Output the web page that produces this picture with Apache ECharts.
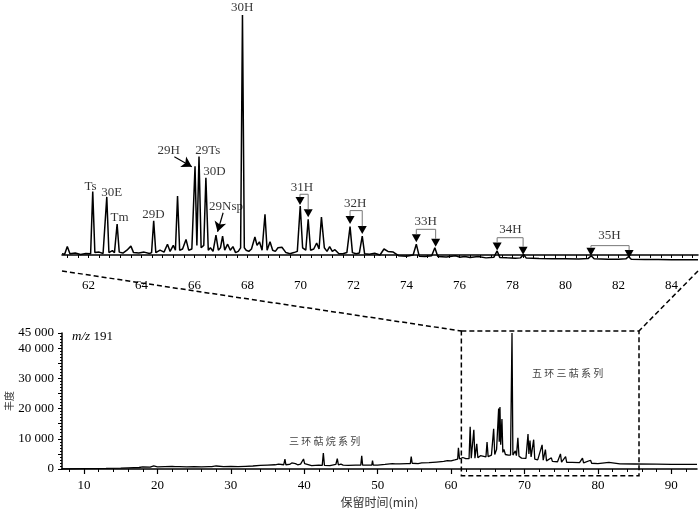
<!DOCTYPE html>
<html>
<head>
<meta charset="utf-8">
<script src="https://cdn.jsdelivr.net/npm/echarts@6/dist/echarts.min.js"></script>
<style>
  html, body { margin: 0; padding: 0; background: #fff; }
  #main { width: 700px; height: 509px; }
</style>
</head>
<body>
<div id="main"></div>
<script>
// enlarged trace, 61-85 min, relative intensity (30H = 100)
var zoomTrace = [
  [61.0, 0.5], [61.1, 0.3], [61.2, 3.5], [61.3, 0.5], [61.5, 0.8], [61.7, 0.2], [61.9, 0.6],
  [62.08, 0.5], [62.16, 26.4], [62.24, 1], [62.4, 1.2], [62.55, 0.6], [62.69, 24.2], [62.77, 1],
  [62.9, 1.8], [62.98, 1], [63.08, 12.9], [63.16, 1.2], [63.3, 0.8], [63.45, 2], [63.6, 3.7],
  [63.7, 1], [63.9, 0.8], [64.1, 1.2], [64.3, 0.6], [64.38, 1], [64.46, 14.2], [64.54, 1],
  [64.7, 2], [64.85, 1.2], [64.98, 4.5], [65.08, 1.5], [65.2, 4], [65.28, 2], [65.36, 24.6],
  [65.44, 2], [65.55, 2.5], [65.68, 6.5], [65.78, 2], [65.9, 2.5], [66.02, 37], [66.09, 4],
  [66.17, 41], [66.25, 3], [66.35, 4], [66.43, 32.2], [66.52, 2], [66.6, 3], [66.7, 1.5],
  [66.81, 8.3], [66.9, 2], [66.98, 3], [67.06, 7.9], [67.14, 2], [67.25, 4.5], [67.35, 2],
  [67.45, 3.5], [67.55, 1], [67.65, 1.5], [67.74, 3], [67.81, 100], [67.88, 3], [67.95, 2],
  [68.05, 1.5], [68.15, 2.5], [68.28, 7.5], [68.36, 4], [68.45, 5.5], [68.55, 2], [68.66, 17],
  [68.74, 2], [68.85, 5.5], [68.95, 2], [69.05, 1.5], [69.15, 3], [69.3, 3.2], [69.45, 1],
  [69.6, 0.5], [69.75, 1], [69.88, 1.5], [69.99, 20.4], [70.08, 3], [70.2, 2], [70.29, 14.9],
  [70.38, 2], [70.5, 2.5], [70.61, 5], [70.7, 2.5], [70.79, 15.8], [70.9, 3], [71.0, 1.5],
  [71.1, 3.5], [71.2, 1.5], [71.3, 2.2], [71.45, 0.5], [71.6, 0.5], [71.75, 1], [71.87, 11.8],
  [71.96, 1], [72.1, 0.5], [72.22, 0.8], [72.33, 7.9], [72.42, 0.5], [72.6, 0.3], [72.8, 0.7],
  [73.0, 0], [73.15, 2.5], [73.3, 1.5], [73.5, 1.2], [73.7, -0.3], [74.0, -0.5], [74.25, 0],
  [74.37, 4.5], [74.48, -0.5], [74.7, -0.6], [74.95, -0.3], [75.07, 3], [75.18, -0.6],
  [75.5, -0.8], [75.85, -0.3], [76.0, -0.9], [76.2, -0.6], [76.4, -1], [76.7, -0.6], [77.0, -1.2],
  [77.3, -0.9], [77.42, 1.7], [77.52, -1], [77.8, -1.2], [78.1, -1.4], [78.3, -1.2], [78.42, 0.2],
  [78.52, -1.3], [79.0, -1.5], [79.5, -1.6], [80.0, -1.6], [80.5, -1.7], [80.85, -1.5],
  [80.97, -0.3], [81.08, -1.6], [81.6, -1.8], [82.0, -1.8], [82.28, -1.6], [82.38, -0.6],
  [82.48, -1.8], [83.0, -1.9], [83.5, -1.9], [84.0, -2], [84.5, -2], [85.0, -2]
];

// full m/z 191 trace, abundance
var fullTrace = [
  [7.0, 0], [10, 100], [13, 200], [15, 300], [16, 400], [17.5, 500], [18, 700], [19, 600],
  [19.5, 1000], [19.7, 600], [20, 700], [21, 800], [22, 900], [22.2, 1200], [22.4, 800],
  [23, 800], [24, 700], [25, 800], [26, 700], [27, 800], [27.2, 1300], [27.4, 800], [28, 1000],
  [29, 800], [30, 900], [31, 800], [32, 900], [33, 1000], [34, 1200], [35, 1300], [36, 1400],
  [36.5, 1600], [37.2, 1400], [37.37, 3300], [37.5, 1400], [38.0, 1500], [38.3, 2000],
  [38.5, 1400], [38.8, 1800], [39.1, 1400], [39.5, 1600], [39.9, 3300], [40.05, 1800],
  [40.3, 1200], [41, 1100], [42, 1300], [42.45, 1200], [42.6, 5300], [42.75, 1200], [43.5, 1100],
  [44.3, 1500], [44.5, 3400], [44.65, 1400], [45, 1600], [45.3, 1300], [46, 1200], [47, 1300],
  [47.7, 1300], [47.83, 4400], [47.95, 1300], [48.5, 1300], [49.2, 1300], [49.3, 2800],
  [49.4, 1300], [50, 1300], [51, 1500], [52, 1800], [52.2, 2200], [52.4, 1700], [53, 1700],
  [54, 1800], [54.45, 1800], [54.57, 4100], [54.7, 1900], [55.5, 1800], [56, 2000], [57, 2100],
  [58, 2300], [59, 2500], [59.5, 2800], [60, 2700], [60.5, 3000], [60.9, 3300], [61.0, 7000],
  [61.15, 3300], [61.6, 3800], [61.75, 3200], [62, 3400], [62.45, 3400], [62.6, 14000],
  [62.75, 3600], [62.95, 3600], [63.1, 13000], [63.25, 3600], [63.5, 8300], [63.65, 3700],
  [64, 4400], [64.2, 3900], [64.75, 4000], [64.9, 8900], [65.05, 4100], [65.5, 4600],
  [65.8, 13300], [65.95, 4800], [66.2, 6500], [66.35, 6000], [66.48, 20000], [66.56, 9000],
  [66.66, 20500], [66.76, 8000], [66.93, 16500], [67.05, 5500], [67.2, 6500], [67.4, 4800],
  [67.8, 4600], [68.1, 4600], [68.3, 45000], [68.42, 4600], [68.6, 4800], [68.75, 6000],
  [68.9, 4400], [69.1, 10300], [69.25, 4200], [69.6, 3600], [70.2, 3500], [70.48, 11600],
  [70.6, 5000], [70.75, 9400], [70.9, 4000], [71.25, 9700], [71.4, 3300], [71.8, 3000],
  [72.4, 8000], [72.55, 2900], [72.85, 6400], [73, 2700], [73.66, 3700], [73.8, 2500],
  [74.5, 2400], [74.9, 5000], [75.05, 2300], [75.6, 4100], [75.75, 2200], [76.5, 2200],
  [77.5, 2100], [77.9, 3600], [78.05, 2000], [79.0, 2900], [79.15, 1900], [80, 1800],
  [81.5, 2200], [81.65, 1700], [83, 1700], [85, 1650], [88, 1600], [90, 1550], [93.5, 1500]
];

// peak labels in the enlarged trace [t, level, text]
var peakLabels = [
  [67.8, 103.3, '30H'], [62.08, 28.7, 'Ts'], [62.88, 26.2, '30E'], [63.17, 15.4, 'Tm'],
  [64.45, 16.7, '29D'], [65.03, 43.7, '29H'], [66.5, 43.7, '29Ts'], [66.75, 34.9, '30D'],
  [67.19, 20.1, '29Nsp'], [70.05, 28.2, '31H'], [72.06, 21.5, '32H'], [74.72, 13.9, '33H'],
  [77.92, 10.4, '34H'], [81.66, 7.9, '35H']
];

// homohopane doublets: [t1, tri1, t2, tri2, bracket level]
var hopanePairs = [
  [69.98, 22.5, 70.29, 17.4, 25.3],
  [71.87, 14.6, 72.33, 10.4, 18.5],
  [74.37, 7.0, 75.10, 5.1, 10.7],
  [77.42, 3.5, 78.40, 1.8, 7.2],
  [80.96, 1.4, 82.40, 0.4, 3.9]
];

// arrows [from, to]
var arrows = [
  [[65.24, 40.96], [65.9, 36.8]],
  [[67.08, 17.6], [66.87, 9.7]]
];

var zoomTicks = [62, 64, 66, 68, 70, 72, 74, 76, 78, 80, 82, 84];
var fullTicks = [10, 20, 30, 40, 50, 60, 70, 80, 90];
var yTicks = [0, 10000, 20000, 30000, 40000, 45000];

var serif = 'Liberation Serif';
var cjk = 'Noto Sans CJK SC';

var zoomMinor = [];
for (var t = 61.2; t < 85; t += 0.4) zoomMinor.push(Math.round(t * 10) / 10);
var fullMinor = [];
for (var m = 8; m <= 92; m += 2) fullMinor.push(m);

var triHalf = 1.6;
var triangles = [];
var bracketSeries = [];
hopanePairs.forEach(function (p) {
  triangles.push([p[0], p[1]], [p[2], p[3]]);
  bracketSeries.push({
    type: 'line',
    xAxisIndex: 0,
    yAxisIndex: 0,
    symbol: 'none',
    silent: true,
    lineStyle: { color: '#777', width: 1 },
    data: [[p[0], p[1] + triHalf], [p[0], p[4]], [p[2], p[4]], [p[2], p[3] + triHalf]]
  });
});

var chart = echarts.init(document.getElementById('main'));
var option = {
  animation: false,
  backgroundColor: '#fff',
  grid: [
    { left: 62, right: 2, top: 0, bottom: 238, outerBoundsMode: 'none', containLabel: false },
    { left: 62, right: 3, top: 333, bottom: 40, outerBoundsMode: 'none', containLabel: false }
  ],
  xAxis: [
    {
      type: 'value', gridIndex: 0, min: 61, max: 85, position: 'bottom',
      axisLine: { lineStyle: { color: '#000', width: 1.5 } },
      axisTick: { show: true, customValues: zoomMinor, length: 3, lineStyle: { color: '#000' } },
      axisLabel: { customValues: zoomTicks, color: '#000', fontFamily: serif, fontSize: 13, margin: 8 },
      splitLine: { show: false }
    },
    {
      type: 'value', gridIndex: 1, min: 7, max: 93.5, position: 'bottom',
      name: '保留时间(min)', nameLocation: 'middle', nameGap: 27,
      nameTextStyle: { color: '#333', fontFamily: cjk, fontSize: 12 },
      axisLine: { lineStyle: { color: '#000', width: 1.5 } },
      axisTick: { show: true, customValues: fullMinor, length: 3, lineStyle: { color: '#000' } },
      axisLabel: { customValues: fullTicks, color: '#000', fontFamily: serif, fontSize: 13, margin: 10 },
      splitLine: { show: false }
    },
    {
      type: 'value', gridIndex: 1, min: 7, max: 93.5, position: 'bottom', offset: 0,
      axisLine: { show: false },
      axisTick: { show: true, customValues: fullTicks, length: 5, lineStyle: { color: '#000', width: 1.2 } },
      axisLabel: { show: false },
      splitLine: { show: false }
    }
  ],
  yAxis: [
    { type: 'value', gridIndex: 0, min: -6.67, max: 106.25, show: false, splitLine: { show: false } },
    {
      type: 'value', gridIndex: 1, min: 0, max: 45000, interval: 5000,
      name: '丰度', nameLocation: 'middle', nameGap: 48, nameRotate: 90, nameMoveOverlap: false,
      nameTextStyle: { color: '#333', fontFamily: cjk, fontSize: 10 },
      axisLine: { show: true, lineStyle: { color: '#000', width: 1.5 } },
      axisTick: { show: true, length: 4, lineStyle: { color: '#000' } },
      minorTick: { show: true, splitNumber: 5, length: 2, lineStyle: { color: '#000' } },
      axisLabel: {
        customValues: yTicks, color: '#000', fontFamily: serif, fontSize: 13, margin: 8,
        formatter: function (v) { return String(v).replace(/\B(?=(\d{3})+(?!\d))/g, ' '); }
      },
      splitLine: { show: false }
    }
  ],
  series: [
    {
      type: 'line', xAxisIndex: 0, yAxisIndex: 0, symbol: 'none', silent: true,
      lineStyle: { color: '#000', width: 1.5 },
      data: zoomTrace,
      markLine: {
        silent: true, symbol: ['none', 'arrow'], symbolSize: [9, 10],
        label: { show: false },
        lineStyle: { color: '#000', width: 1.2, type: 'solid' },
        data: arrows.map(function (a) { return [{ coord: a[0] }, { coord: a[1] }]; })
      }
    },
    {
      type: 'line', xAxisIndex: 1, yAxisIndex: 1, symbol: 'none', silent: true,
      lineStyle: { color: '#000', width: 1.3 },
      data: fullTrace
    },
    {
      type: 'scatter', xAxisIndex: 0, yAxisIndex: 0, silent: true,
      symbol: 'triangle', symbolRotate: 180, symbolSize: [9, 8],
      itemStyle: { color: '#000', opacity: 1 },
      data: triangles
    },
    {
      type: 'scatter', xAxisIndex: 0, yAxisIndex: 0, silent: true, clip: false,
      symbolSize: 0,
      label: {
        show: true, position: 'inside', color: '#000', fontFamily: serif, fontSize: 13,
        formatter: function (p) { return p.value[2]; }
      },
      data: peakLabels
    }
  ].concat(bracketSeries),
  graphic: [
    {
      type: 'text', left: 72, top: 330,
      style: {
        text: '{i|m/z} {n|191}',
        rich: {
          i: { fontFamily: serif, fontStyle: 'italic', fontSize: 13, fill: '#000' },
          n: { fontFamily: serif, fontSize: 13, fill: '#000' }
        }
      }
    },
    {
      type: 'text', left: 289, top: 436,
      style: { text: '三 环 萜 烷 系 列', fontFamily: cjk, fontSize: 10, fill: '#444' }
    },
    {
      type: 'text', left: 532, top: 368,
      style: { text: '五 环 三 萜 系 列', fontFamily: cjk, fontSize: 10, fill: '#444' }
    }
  ]
};
chart.setOption(option);

// dashed zoom box and connectors, positioned through the axes
var full = { xAxisIndex: 1, yAxisIndex: 1 };
var zoom = { xAxisIndex: 0, yAxisIndex: 0 };
var boxTL = chart.convertToPixel(full, [61.4, 45660]);
var boxBR = chart.convertToPixel(full, [85.6, -2200]);
var zL = chart.convertToPixel(zoom, [61, -6.67]);
var zR = chart.convertToPixel(zoom, [85, -6.67]);
var dash = { stroke: '#000', lineWidth: 1.5, lineDash: [5, 3], fill: null };
chart.setOption({
  graphic: option.graphic.concat([
    {
      type: 'rect', silent: true,
      shape: { x: boxTL[0], y: boxTL[1], width: boxBR[0] - boxTL[0], height: boxBR[1] - boxTL[1] },
      style: dash
    },
    {
      type: 'line', silent: true,
      shape: { x1: zL[0], y1: zL[1], x2: boxTL[0], y2: boxTL[1] },
      style: dash
    },
    {
      type: 'line', silent: true,
      shape: { x1: zR[0], y1: zR[1], x2: boxBR[0], y2: boxTL[1] },
      style: dash
    }
  ])
}, { replaceMerge: ['graphic'] });
</script>
</body>
</html>
